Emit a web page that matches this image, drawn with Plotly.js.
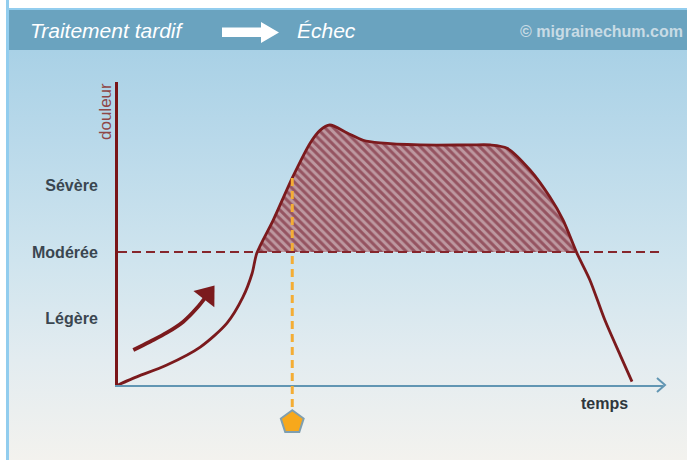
<!DOCTYPE html>
<html><head><meta charset="utf-8">
<script src="https://cdn.plot.ly/plotly-3.0.1.min.js"></script>
<style>
html,body{margin:0;padding:0;background:#fff;}
#chart{width:687px;height:460px;
background:
 linear-gradient(to right,#fff 0,#fff 6px,#92cdee 6px,#92cdee 9px,rgba(255,255,255,0) 9px),
 linear-gradient(to bottom,#fff 0,#fff 8px,#92cdee 8px,#92cdee 10px,#6aa3bf 10px,#6aa3bf 50px,#a9d1e6 50px,#b9d9ea 140px,#cfe4ee 260px,#e3ecf0 360px,#f3f2ee 460px);}
</style></head><body><div id="chart"></div>
<script>
// ---- data (time in arbitrary units, pain level: 1 Légère, 2 Modérée, 3 Sévère) ----
const timeX = [0, 2.9, 9.5, 16.0, 21.2, 24.3, 26.1, 27.0, 30.2, 34.0, 37.4, 39.3, 41.2, 44.6, 47.7, 51.0, 58.8, 68.5, 72.4, 75.7, 80.2, 84.0, 86.6, 89.3, 91.8, 94.7, 97.7, 100];
const pain  = [0, 0.10, 0.30, 0.57, 0.93, 1.32, 1.68, 1.98, 2.48, 3.13, 3.64, 3.83, 3.91, 3.79, 3.68, 3.64, 3.61, 3.61, 3.61, 3.56, 3.23, 2.83, 2.48, 1.98, 1.58, 0.98, 0.45, 0.05];
const levelVals = [1, 2, 3];
const levelLabels = ['Légère', 'Modérée', 'Sévère'];
const threshold = 2;
const treatmentTime = 33.9;
const treatmentMarkY = -0.56;
const treatmentLineBottom = -0.45;
const arrowX = [2.98, 6.2, 9.5, 12.7, 15.3, 17.4];
const arrowY = [0.526, 0.651, 0.786, 0.952, 1.153, 1.36];
const headerLeft = 'Traitement tardif';
const headerRight = 'Échec';
const credit = '© migrainechum.com';
const yTitle = 'douleur';
const xTitle = 'temps';

// ---- layout geometry ----
const W = 687, H = 460, PL = 118, PR = 663, PT = 82, PB = 385;
const XU = 5.14, YU = 66.5; // px per unit
const xMax = (PR - PL) / XU, yMax = (PB - PT) / YU;
const fx = p => (p - PL) / (PR - PL);
const fy = p => (PB - p) / (PB - PT);

function abovePolygon(xs, ys, t) {
  const ox = [], oy = [];
  for (let i = 0; i < xs.length; i++) {
    if (i > 0) {
      const a = ys[i-1] - t, b = ys[i] - t;
      if ((a < 0 && b >= 0) || (a >= 0 && b < 0)) {
        const f = a / (a - b);
        ox.push(xs[i-1] + f * (xs[i] - xs[i-1])); oy.push(t);
      }
    }
    if (ys[i] >= t) { ox.push(xs[i]); oy.push(ys[i]); }
  }
  return {x: ox, y: oy};
}
function interp(xs, ys, x) {
  for (let i = 1; i < xs.length; i++) {
    if (x <= xs[i]) { const f = (x - xs[i-1]) / (xs[i] - xs[i-1]); return ys[i-1] + f * (ys[i] - ys[i-1]); }
  }
  return ys[ys.length-1];
}
function pentagonPath(r) {
  let d = '';
  for (let k = 0; k < 5; k++) {
    const a = Math.PI / 2 + k * 2 * Math.PI / 5;
    d += (k ? ' L' : 'M') + (r * Math.cos(a)).toFixed(2) + ',' + (r * Math.sin(a)).toFixed(2);
  }
  return d + ' Z';
}
const poly = abovePolygon(timeX, pain, threshold);
const treatTop = interp(timeX, pain, treatmentTime);

const maroon = '#7b1a1d';
const traces = [
  {x: poly.x, y: poly.y, type: 'scatter', mode: 'none', fill: 'toself',
   line: {shape: 'spline', smoothing: 0.8},
   fillcolor: '#a8737e',
   fillpattern: {shape: '\\', bgcolor: '#bd98a0', fgcolor: '#955461', size: 6, solidity: 0.5},
   hoverinfo: 'skip'},
  {x: timeX, y: pain, type: 'scatter', mode: 'lines',
   line: {color: maroon, width: 2.8, shape: 'spline', smoothing: 0.8}, hoverinfo: 'skip'},
  {x: arrowX, y: arrowY, type: 'scatter', mode: 'lines+markers', cliponaxis: false,
   line: {color: maroon, width: 3.8, shape: 'spline'},
   marker: {symbol: 'triangle-up', angleref: 'previous', color: maroon, opacity: 1,
            size: arrowX.map((v, i) => i === arrowX.length - 1 ? 23 : 0), line: {width: 0}},
   hoverinfo: 'skip'}
];

const shapes = [
  // header arrow
  {type: 'path', xref: 'paper', yref: 'paper', fillcolor: '#ffffff', line: {width: 0},
   path: `M${fx(222)},${fy(27.5)} L${fx(261)},${fy(27.5)} L${fx(261)},${fy(22)} L${fx(279)},${fy(32.5)} L${fx(261)},${fy(43)} L${fx(261)},${fy(37)} L${fx(222)},${fy(37)} Z`},
  // moderate threshold dashed line
  {type: 'line', xref: 'paper', yref: 'y', x0: 0, x1: 1, y0: threshold, y1: threshold,
   line: {color: '#86262c', width: 1.9, dash: '9px,5px'}, layer: 'above'},
  // treatment vertical dashed line
  {type: 'line', xref: 'x', yref: 'paper', x0: treatmentTime, x1: treatmentTime,
   y0: treatTop / yMax, y1: treatmentLineBottom / yMax,
   line: {color: '#f4ad35', width: 3, dash: '8px,5px'}, layer: 'above'},
  // treatment pentagon
  {type: 'path', xref: 'x', yref: 'paper', xsizemode: 'pixel', ysizemode: 'pixel',
   xanchor: treatmentTime, yanchor: treatmentMarkY / yMax, path: pentagonPath(12),
   fillcolor: '#f7a81b', line: {color: '#7f9fb0', width: 2}, layer: 'above'},
  // x axis arrow chevron
  {type: 'path', xref: 'paper', yref: 'paper', line: {color: '#6296b3', width: 2},
   path: `M${fx(657)},${fy(378)} L${fx(665)},${fy(385)} L${fx(657)},${fy(392)}`}
];

const annotations = [
  {text: headerLeft, xref: 'paper', yref: 'paper', x: fx(28), y: fy(30.5), xanchor: 'left', yanchor: 'middle', showarrow: false,
   font: {family: 'Liberation Sans, Arial, sans-serif', size: 21, color: '#ffffff', style: 'italic'}},
  {text: headerRight, xref: 'paper', yref: 'paper', x: fx(295), y: fy(30.5), xanchor: 'left', yanchor: 'middle', showarrow: false,
   font: {family: 'Liberation Sans, Arial, sans-serif', size: 21, color: '#ffffff', style: 'italic'}},
  {text: credit, xref: 'paper', yref: 'paper', x: fx(685), y: fy(31), xanchor: 'right', yanchor: 'middle', showarrow: false,
   font: {family: 'Liberation Sans, Arial, sans-serif', size: 16, color: '#c8dbe5', weight: 700}},
  {text: yTitle, xref: 'paper', yref: 'paper', x: fx(105), y: fy(112), xanchor: 'center', yanchor: 'middle', textangle: -90, showarrow: false,
   font: {family: 'Liberation Sans, Arial, sans-serif', size: 17, color: '#8f4646'}},
  {text: xTitle, xref: 'paper', yref: 'paper', x: fx(604), y: fy(403), xanchor: 'center', yanchor: 'middle', showarrow: false,
   font: {family: 'Liberation Sans, Arial, sans-serif', size: 16, color: '#2e373d', weight: 700}}
];

const layout = {
  width: W, height: H,
  margin: {l: PL, r: W - PR, t: PT, b: H - PB, pad: 0},
  paper_bgcolor: 'rgba(0,0,0,0)', plot_bgcolor: 'rgba(0,0,0,0)',
  showlegend: false,
  xaxis: {range: [0, xMax], showgrid: false, zeroline: false, showticklabels: false, ticks: '',
          showline: true, linecolor: '#6296b3', linewidth: 2, fixedrange: true},
  yaxis: {range: [0, yMax], showgrid: false, zeroline: false, ticks: '',
          tickvals: levelVals, ticktext: levelLabels, ticklabelstandoff: 14,
          tickfont: {family: 'Liberation Sans, Arial, sans-serif', size: 16, color: '#3a4650', weight: 700},
          showline: true, linecolor: '#7a1518', linewidth: 3, fixedrange: true},
  shapes: shapes, annotations: annotations
};
Plotly.newPlot('chart', traces, layout, {displayModeBar: false, staticPlot: true});
</script></body></html>
